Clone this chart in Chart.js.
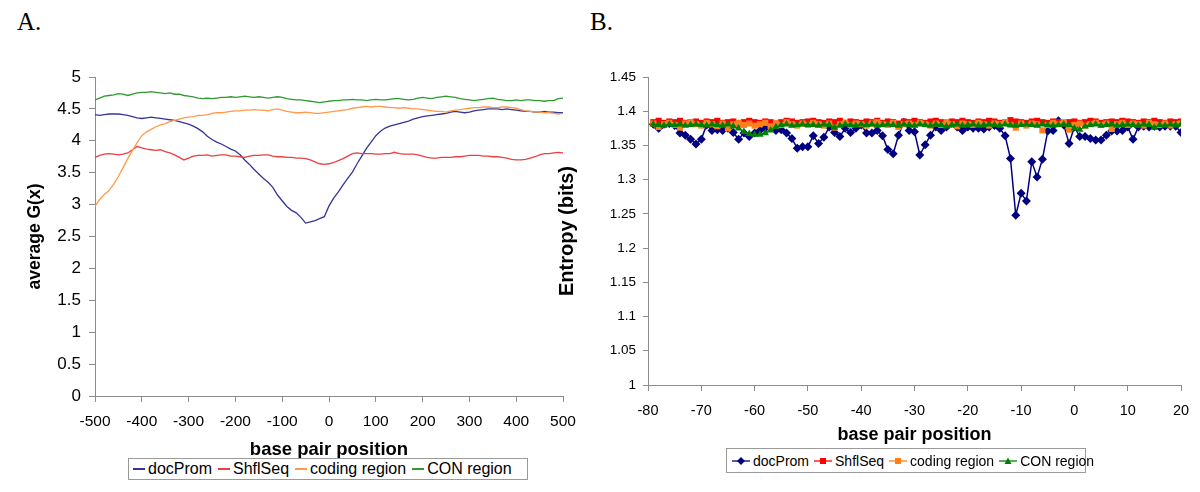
<!DOCTYPE html>
<html>
<head>
<meta charset="utf-8">
<script src="https://cdn.jsdelivr.net/npm/chart.js@4.4.1/dist/chart.umd.min.js"></script>
<style>
  body { margin: 0; background: #fff; width: 1200px; height: 492px; position: relative; overflow: hidden;
         font-family: "Liberation Sans", Arial, sans-serif; }
  .panel-label { position: absolute; top: 8px; font-family: "Liberation Serif", "Times New Roman", serif; font-size: 25px; color: #000; }
  .wrap { position: absolute; top: 0; height: 492px; }
  #wrapA { left: 0; width: 590px; }
  #wrapB { left: 545px; width: 655px; }
  .legend { position: absolute; border: 1px solid #9a9a9a; background: #fff; display: flex; align-items: center;
            box-sizing: border-box; white-space: nowrap; color: #000; }
  .legend .item { display: flex; align-items: center; }
  #legendA { left: 128px; top: 458px; width: 400px; height: 22px; font-size: 16px; padding-left: 4px; }
  #legendA .item { margin-right: 6px; }
  #legendA .swatch { width: 12px; height: 2px; margin-right: 3px; }
  #legendB { left: 726px; top: 448px; width: 360px; height: 25px; font-size: 14px; padding-left: 4px; }
  #legendB .item { margin-right: 4px; }
  #legendB svg { margin-right: 2px; }
</style>
</head>
<body>
<div class="panel-label" style="left:17px">A.</div>
<div class="panel-label" style="left:590px">B.</div>

<div class="wrap" id="wrapA"><canvas id="chartA" width="590" height="492"></canvas></div>
<div class="wrap" id="wrapB"><canvas id="chartB" width="655" height="492"></canvas></div>

<div class="legend" id="legendA"></div>
<div class="legend" id="legendB"></div>

<script>
// ---- Panel A: average G(x), every 10 bp from -500 to 500 ----
const posA = [];
for (let p = -500; p <= 500; p += 10) posA.push(p);

const docPromA = [
  4.41, 4.40, 4.41, 4.42, 4.42, 4.42, 4.41, 4.40, 4.38, 4.36,
  4.35, 4.36, 4.37, 4.36, 4.35, 4.34, 4.33, 4.32, 4.30, 4.28,
  4.26, 4.23, 4.19, 4.14, 4.07, 4.02, 3.98, 3.95, 3.91, 3.87,
  3.84, 3.78, 3.70, 3.63, 3.55, 3.48, 3.41, 3.35, 3.27, 3.15,
  3.06, 2.97, 2.91, 2.87, 2.80, 2.71, 2.73, 2.75, 2.78, 2.81,
  2.98, 3.10, 3.20, 3.31, 3.41, 3.51, 3.64, 3.76, 3.88, 3.98,
  4.08, 4.15, 4.20, 4.23, 4.25, 4.27, 4.29, 4.31, 4.34, 4.36,
  4.38, 4.39, 4.40, 4.41, 4.42, 4.43, 4.45, 4.46, 4.45, 4.44,
  4.45, 4.47, 4.48, 4.49, 4.50, 4.50, 4.50, 4.49, 4.50, 4.49,
  4.48, 4.47, 4.46, 4.46, 4.45, 4.45, 4.46, 4.45, 4.45, 4.44,
  4.44
];
const shflSeqA = [
  3.74, 3.77, 3.79, 3.80, 3.79, 3.78, 3.79, 3.81, 3.86, 3.91,
  3.89, 3.87, 3.86, 3.85, 3.86, 3.83, 3.81, 3.78, 3.74, 3.70,
  3.73, 3.76, 3.77, 3.77, 3.78, 3.76, 3.77, 3.78, 3.78, 3.76,
  3.76, 3.75, 3.74, 3.76, 3.77, 3.77, 3.78, 3.78, 3.76, 3.75,
  3.75, 3.74, 3.74, 3.73, 3.73, 3.72, 3.70, 3.67, 3.64, 3.63,
  3.64, 3.66, 3.69, 3.72, 3.76, 3.80, 3.81, 3.80, 3.80, 3.80,
  3.79, 3.79, 3.80, 3.80, 3.82, 3.80, 3.79, 3.79, 3.79, 3.78,
  3.76, 3.74, 3.73, 3.73, 3.74, 3.74, 3.74, 3.75, 3.75, 3.76,
  3.77, 3.77, 3.77, 3.76, 3.76, 3.75, 3.75, 3.74, 3.73, 3.71,
  3.70, 3.70, 3.71, 3.73, 3.75, 3.78, 3.80, 3.80, 3.81, 3.82,
  3.81
];
const codingA = [
  2.97, 3.08, 3.16, 3.22, 3.32, 3.44, 3.58, 3.72, 3.85, 3.97,
  4.08, 4.14, 4.18, 4.22, 4.25, 4.27, 4.30, 4.32, 4.34, 4.36,
  4.37, 4.38, 4.40, 4.40, 4.41, 4.43, 4.44, 4.44, 4.45, 4.46,
  4.47, 4.47, 4.48, 4.48, 4.49, 4.48, 4.48, 4.47, 4.49, 4.50,
  4.48, 4.46, 4.45, 4.44, 4.44, 4.45, 4.44, 4.43, 4.43, 4.44,
  4.45, 4.46, 4.47, 4.48, 4.49, 4.51, 4.52, 4.53, 4.54, 4.53,
  4.54, 4.54, 4.53, 4.52, 4.52, 4.51, 4.52, 4.51, 4.50, 4.50,
  4.49, 4.48, 4.47, 4.46, 4.46, 4.45, 4.47, 4.48, 4.49, 4.50,
  4.51, 4.52, 4.52, 4.53, 4.53, 4.52, 4.52, 4.53, 4.53, 4.52,
  4.51, 4.49, 4.47, 4.46, 4.45, 4.45, 4.44, 4.44, 4.43, 4.42,
  4.43
];
const conA = [
  4.64, 4.67, 4.70, 4.71, 4.72, 4.74, 4.73, 4.71, 4.73, 4.75,
  4.76, 4.76, 4.77, 4.76, 4.75, 4.74, 4.75, 4.73, 4.73, 4.71,
  4.70, 4.69, 4.67, 4.66, 4.67, 4.66, 4.67, 4.68, 4.68, 4.69,
  4.68, 4.69, 4.70, 4.69, 4.68, 4.69, 4.68, 4.67, 4.68, 4.69,
  4.68, 4.66, 4.65, 4.64, 4.64, 4.63, 4.62, 4.61, 4.60, 4.61,
  4.62, 4.63, 4.63, 4.64, 4.64, 4.65, 4.64, 4.64, 4.63, 4.64,
  4.65, 4.64, 4.64, 4.65, 4.66, 4.66, 4.65, 4.64, 4.65, 4.67,
  4.68, 4.67, 4.66, 4.68, 4.69, 4.70, 4.69, 4.68, 4.66, 4.65,
  4.64, 4.63, 4.64, 4.65, 4.66, 4.67, 4.65, 4.64, 4.63, 4.63,
  4.64, 4.63, 4.64, 4.64, 4.63, 4.63, 4.62, 4.63, 4.63, 4.66,
  4.67
];

// ---- Panel B: entropy per position, -79 to 20 ----
const posB = [];
for (let p = -79; p <= 20; p++) posB.push(p);

const docPromB = [
  1.381, 1.375, 1.381, 1.382, 1.379, 1.368, 1.365, 1.359, 1.352, 1.359,
  1.380, 1.372, 1.373, 1.372, 1.375, 1.369, 1.359, 1.368, 1.363, 1.368,
  1.372, 1.375, 1.378, 1.372, 1.373, 1.368, 1.360, 1.346, 1.348, 1.348,
  1.364, 1.353, 1.362, 1.377, 1.369, 1.363, 1.375, 1.369, 1.375, 1.380,
  1.368, 1.368, 1.372, 1.364, 1.344, 1.338, 1.365, 1.384, 1.372, 1.370,
  1.336, 1.351, 1.365, 1.377, 1.372, 1.377, 1.382, 1.377, 1.372, 1.377,
  1.375, 1.375, 1.374, 1.377, 1.379, 1.375, 1.364, 1.331, 1.248, 1.280,
  1.269, 1.326, 1.304, 1.330, 1.371, 1.372, 1.386, 1.380, 1.353, 1.377,
  1.363, 1.363, 1.360, 1.358, 1.358, 1.365, 1.371, 1.371, 1.372, 1.377,
  1.359, 1.377, 1.378, 1.377, 1.378, 1.377, 1.378, 1.378, 1.378, 1.369
];
const shflSeqB = [
  1.384, 1.386, 1.383, 1.385, 1.384, 1.386, 1.383, 1.384, 1.385, 1.383,
  1.385, 1.384, 1.386, 1.383, 1.384, 1.385, 1.382, 1.384, 1.386, 1.384,
  1.383, 1.385, 1.384, 1.382, 1.384, 1.386, 1.385, 1.383, 1.384, 1.385,
  1.386, 1.384, 1.383, 1.385, 1.384, 1.386, 1.383, 1.385, 1.384, 1.383,
  1.385, 1.384, 1.386, 1.383, 1.385, 1.384, 1.382, 1.385, 1.384, 1.386,
  1.384, 1.383, 1.385, 1.386, 1.384, 1.383, 1.385, 1.384, 1.386, 1.384,
  1.383, 1.385, 1.384, 1.386, 1.385, 1.383, 1.384, 1.387, 1.385, 1.384,
  1.383, 1.385, 1.386, 1.384, 1.383, 1.385, 1.384, 1.382, 1.384, 1.385,
  1.383, 1.384, 1.386, 1.385, 1.383, 1.384, 1.385, 1.384, 1.386, 1.385,
  1.384, 1.383, 1.385, 1.384, 1.386, 1.384, 1.383, 1.385, 1.384, 1.385
];
const codingB = [
  1.382, 1.377, 1.381, 1.383, 1.380, 1.376, 1.382, 1.384, 1.381, 1.379,
  1.383, 1.381, 1.378, 1.382, 1.375, 1.381, 1.383, 1.380, 1.382, 1.379,
  1.381, 1.383, 1.378, 1.382, 1.380, 1.384, 1.381, 1.379, 1.382, 1.380,
  1.383, 1.381, 1.379, 1.382, 1.376, 1.381, 1.383, 1.380, 1.382, 1.381,
  1.379, 1.382, 1.384, 1.381, 1.380, 1.383, 1.377, 1.381, 1.382, 1.380,
  1.383, 1.381, 1.379, 1.382, 1.380, 1.384, 1.381, 1.378, 1.382, 1.381,
  1.380, 1.383, 1.381, 1.379, 1.382, 1.381, 1.384, 1.380, 1.376, 1.382,
  1.379, 1.382, 1.381, 1.372, 1.380, 1.383, 1.381, 1.384, 1.373, 1.380,
  1.382, 1.379, 1.381, 1.383, 1.380, 1.382, 1.374, 1.381, 1.383, 1.380,
  1.382, 1.381, 1.379, 1.383, 1.381, 1.380, 1.382, 1.379, 1.381, 1.382
];
const conB = [
  1.381, 1.380, 1.379, 1.381, 1.380, 1.381, 1.379, 1.380, 1.381, 1.380,
  1.379, 1.381, 1.380, 1.379, 1.381, 1.378, 1.375, 1.370, 1.367, 1.366,
  1.366, 1.368, 1.372, 1.377, 1.380, 1.381, 1.379, 1.380, 1.381, 1.380,
  1.380, 1.379, 1.381, 1.380, 1.376, 1.379, 1.381, 1.380, 1.379, 1.381,
  1.380, 1.381, 1.379, 1.380, 1.381, 1.380, 1.379, 1.381, 1.380, 1.379,
  1.381, 1.380, 1.379, 1.381, 1.380, 1.378, 1.380, 1.381, 1.379, 1.380,
  1.381, 1.379, 1.380, 1.381, 1.380, 1.379, 1.381, 1.380, 1.379, 1.380,
  1.381, 1.380, 1.379, 1.381, 1.380, 1.379, 1.380, 1.381, 1.380, 1.375,
  1.373, 1.378, 1.380, 1.381, 1.379, 1.380, 1.381, 1.379, 1.380, 1.381,
  1.380, 1.379, 1.381, 1.380, 1.376, 1.380, 1.379, 1.381, 1.380, 1.381
];

const seriesNames = ['docProm', 'ShflSeq', 'coding region', 'CON region'];
const colorsA = ['#35359a', '#ec4040', '#ff9a4a', '#2f9a2f'];
const colorsB = ['#000080', '#ff0000', '#ff7f1a', '#008000'];
const markersB = ['rectRot', 'rect', 'rect', 'triangle'];

const FONT = '"Liberation Sans", Arial, sans-serif';
Chart.defaults.font.family = FONT;
Chart.defaults.color = '#000';

const toPoints = (xs, ys) => xs.map((x, i) => ({ x: x, y: ys[i] }));
const fmt = (v) => String(Math.round(v * 100) / 100);

// fix axis boxes so the plot area lands where it is in the figure
const fixWidth = (w) => (scale) => {
  scale.width = w;
  scale.paddingTop = 0; scale.paddingBottom = 0;
};
const fixHeight = (h) => (scale) => {
  scale.height = h;
  scale.paddingLeft = 0; scale.paddingRight = 0;
};

const axisColor = '#8c8c8c';

// Panel A
new Chart(document.getElementById('chartA').getContext('2d'), {
  type: 'line',
  data: {
    datasets: [docPromA, shflSeqA, codingA, conA].map((vals, i) => ({
      label: seriesNames[i],
      data: toPoints(posA, vals),
      borderColor: colorsA[i],
      borderWidth: 1.3,
      pointRadius: 0,
      tension: 0,
      fill: false,
      order: 4 - i
    }))
  },
  options: {
    responsive: false,
    animation: false,
    layout: { padding: { top: 77, right: 27, bottom: 31, left: 0 } },
    plugins: { legend: { display: false }, tooltip: { enabled: false } },
    scales: {
      x: {
        type: 'linear', min: -500, max: 500,
        afterFit: fixHeight(65),
        ticks: { stepSize: 100, font: { size: 15.5 }, padding: 10, maxRotation: 0, callback: fmt },
        grid: { drawOnChartArea: false, tickLength: 6, color: axisColor },
        border: { color: axisColor },
        title: { display: true, text: 'base pair position', font: { size: 18.5, weight: 'bold' }, padding: 0 }
      },
      y: {
        min: 0, max: 5,
        afterFit: fixWidth(95),
        ticks: { stepSize: 0.5, font: { size: 17 }, padding: 8, callback: fmt },
        grid: { drawOnChartArea: false, tickLength: 6, color: axisColor },
        border: { color: axisColor },
        title: { display: true, text: 'average G(x)', font: { size: 17.5, weight: 'bold' }, padding: { top: 25, bottom: 0 } }
      }
    }
  }
});

// Panel B
new Chart(document.getElementById('chartB').getContext('2d'), {
  type: 'line',
  data: {
    datasets: [docPromB, shflSeqB, codingB, conB].map((vals, i) => ({
      label: seriesNames[i],
      data: toPoints(posB, vals),
      borderColor: colorsB[i],
      backgroundColor: colorsB[i],
      borderWidth: i === 0 ? 1.5 : 1.2,
      pointStyle: markersB[i],
      pointRadius: i === 0 ? 4.5 : 4.3,
      pointBorderWidth: 0,
      pointBackgroundColor: colorsB[i],
      tension: 0,
      fill: false,
      order: 4 - i
    }))
  },
  options: {
    responsive: false,
    animation: false,
    layout: { padding: { top: 77, right: 19, bottom: 46, left: 0 } },
    plugins: { legend: { display: false }, tooltip: { enabled: false } },
    scales: {
      x: {
        type: 'linear', min: -80, max: 20,
        afterFit: fixHeight(61),
        ticks: { stepSize: 10, font: { size: 14.5 }, padding: 11, maxRotation: 0, callback: fmt },
        grid: { drawOnChartArea: false, tickLength: 6, color: axisColor },
        border: { color: axisColor },
        title: { display: true, text: 'base pair position', font: { size: 18, weight: 'bold' }, padding: 0 }
      },
      y: {
        min: 1, max: 1.45,
        afterFit: fixWidth(103),
        ticks: { stepSize: 0.05, font: { size: 13.5 }, padding: 7, callback: fmt },
        grid: { drawOnChartArea: false, tickLength: 5, color: axisColor },
        border: { color: axisColor },
        title: { display: true, text: 'Entropy (bits)', font: { size: 20, weight: 'bold' }, padding: { top: 10, bottom: 0 } }
      }
    }
  }
});

// HTML legends (the figure has boxed legends below each plot)
const legendA = document.getElementById('legendA');
seriesNames.forEach((name, i) => {
  const item = document.createElement('div');
  item.className = 'item';
  item.innerHTML = '<span class="swatch" style="background:' + colorsA[i] + '"></span>' + name;
  legendA.appendChild(item);
});

const markerSvg = (style, color) => {
  let shape = '';
  if (style === 'rectRot') shape = '<polygon points="10,3 14,7 10,11 6,7" fill="' + color + '"/>';
  else if (style === 'rect') shape = '<rect x="7" y="4" width="6" height="6" fill="' + color + '"/>';
  else shape = '<polygon points="10,3.5 13.5,10 6.5,10" fill="' + color + '"/>';
  return '<svg width="20" height="14" viewBox="0 0 20 14"><line x1="1" y1="7" x2="19" y2="7" stroke="' + color +
    '" stroke-width="1.3"/>' + shape + '</svg>';
};
const legendB = document.getElementById('legendB');
seriesNames.forEach((name, i) => {
  const item = document.createElement('div');
  item.className = 'item';
  item.innerHTML = markerSvg(markersB[i], colorsB[i]) + '<span>' + name + '</span>';
  legendB.appendChild(item);
});
</script>
</body>
</html>
